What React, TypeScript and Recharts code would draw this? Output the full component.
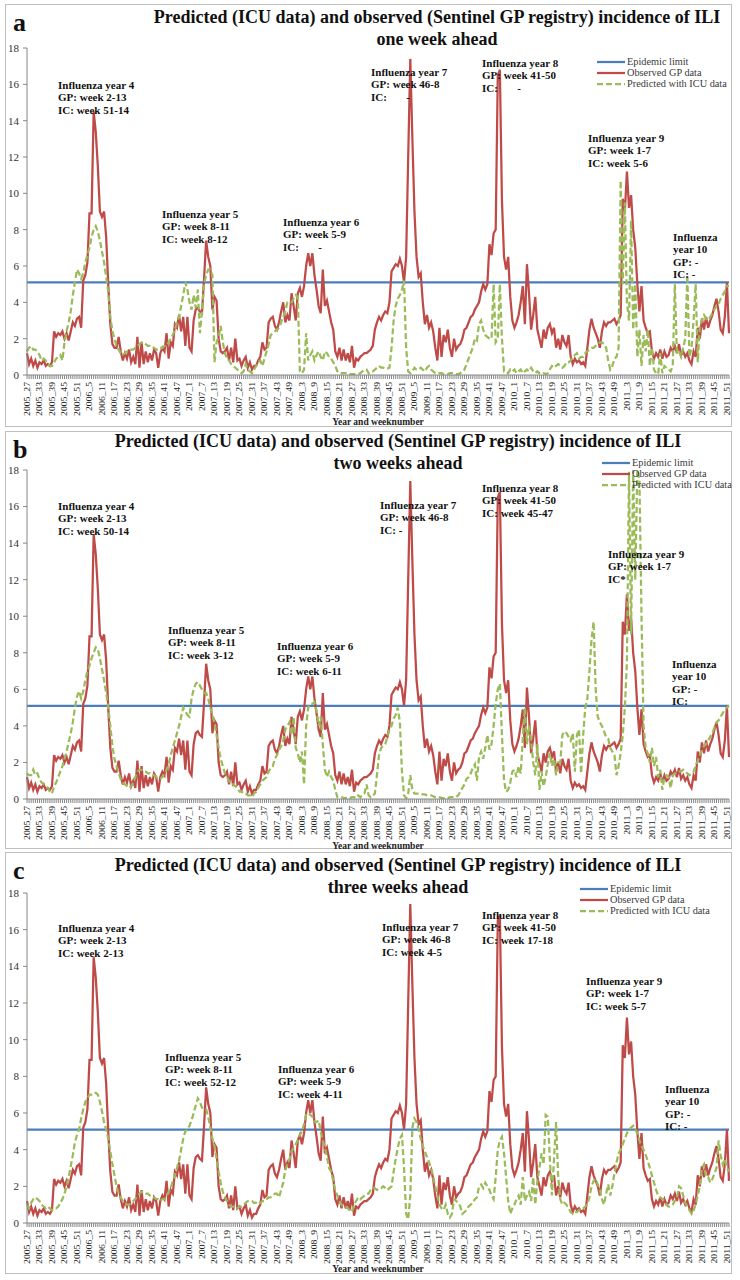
import React from 'react';
import { LineChart, Line, XAxis, YAxis } from 'recharts';

const FONT = "'Liberation Serif', 'Times New Roman', Times, serif";
const RED = '#BE4B48';
const GREEN = '#9BBB59';
const BLUE = '#4A7EBB';
const AXIS = '#868686';

// Categories: week labels, 2005 week 27 .. 2011 week 52 (52 weeks per year)
const FIRST_YEAR = 2005;
const FIRST_WEEK = 27;
const WEEK_COUNT = 338;
const weekLabels: string[] = [];
{
  let y = FIRST_YEAR;
  let w = FIRST_WEEK;
  for (let k = 0; k < WEEK_COUNT; k++) {
    weekLabels.push(`${y}_${w}`);
    w += 1;
    if (w > 52) { w = 1; y += 1; }
  }
}
const TICK_STEP = 6;
const yTicks = [0, 2, 4, 6, 8, 10, 12, 14, 16, 18];
const EPIDEMIC_LIMIT = 5.1;

const observedGP = [
  1.2,0.6,0.9,0.5,0.8,0.4,0.7,0.6,0.8,0.5,
  0.6,0.5,0.7,2.4,2.1,2.3,2.2,2.4,2.0,2.3,
  1.9,2.4,2.9,2.7,3.1,3.2,2.6,5.2,5.5,6.2,
  8.9,8.9,14.5,13.4,11.5,9.0,8.7,9.0,7.6,5.0,
  2.8,1.7,1.5,1.5,2.1,1.3,0.8,1.2,0.9,1.4,
  0.7,1.0,0.6,2.1,0.4,1.8,0.6,1.3,0.7,1.2,
  0.8,1.4,1.2,0.4,1.2,1.5,1.3,2.3,0.9,1.8,
  1.6,2.8,2.6,3.3,2.4,3.2,1.6,3.2,1.5,1.3,
  3.0,3.6,3.7,3.5,3.4,5.3,7.4,6.5,6.0,3.6,
  4.3,4.1,2.0,1.3,1.2,1.3,1.5,0.8,1.5,0.7,
  2.0,0.8,0.9,0.5,0.8,1.0,0.4,0.7,0.3,0.5,
  0.5,0.8,1.0,1.8,1.4,1.5,2.9,3.1,3.2,2.7,
  2.5,2.9,3.5,4.0,2.9,3.3,3.0,4.5,3.8,3.0,
  4.5,4.8,4.3,4.9,6.0,6.7,6.0,6.7,5.5,4.7,
  3.8,3.4,5.8,3.8,4.1,3.5,2.9,2.5,1.3,1.0,
  1.5,0.8,1.4,0.8,1.2,0.7,1.6,0.4,0.9,0.8,
  1.0,1.1,1.2,1.2,1.3,1.4,1.6,2.5,2.9,3.2,
  3.0,3.3,3.5,3.4,4.0,5.7,5.9,6.1,6.0,6.4,
  6.0,5.1,6.5,12.0,17.4,13.0,9.0,6.5,5.4,5.6,
  4.0,2.8,3.3,2.6,2.9,2.4,1.5,0.8,2.6,1.0,
  2.2,1.8,2.5,1.5,1.0,2.0,1.4,1.6,1.7,2.0,
  2.5,2.6,2.9,3.2,3.3,3.6,3.8,4.0,4.6,5.0,
  4.7,5.0,7.2,6.6,7.8,8.0,16.5,16.8,9.6,6.5,
  5.8,6.5,4.3,3.0,2.6,2.9,3.3,4.0,4.9,2.8,
  6.1,4.5,2.5,3.3,4.3,2.5,2.0,1.5,2.5,2.0,
  2.6,2.8,2.3,2.6,1.5,2.0,1.4,2.2,1.8,1.6,
  2.2,1.0,0.6,0.9,0.7,0.8,0.6,0.7,0.5,1.5,
  2.5,3.1,2.6,2.3,2.0,1.5,2.4,2.9,2.7,2.9,
  2.9,3.0,3.1,2.8,3.0,3.3,9.7,9.0,11.2,9.2,
  9.9,8.0,7.0,5.0,3.5,4.9,3.0,2.6,2.3,2.4,
  1.3,0.9,1.2,1.0,1.4,0.9,1.3,1.0,1.1,1.5,
  1.3,1.6,1.2,1.7,1.1,1.3,1.0,1.2,0.8,0.6,
  1.3,1.0,2.6,2.0,3.1,2.5,3.2,2.6,3.0,3.3,
  3.8,4.2,3.5,2.5,2.3,3.2,5.1,2.3,
];

const predictedOneWeek = [
  1.3,1.5,1.6,1.4,1.4,1.3,1.1,0.8,0.9,0.8,
  0.6,0.5,0.5,0.7,0.9,1.0,1.1,0.8,1.8,2.4,
  2.9,3.5,4.4,5.1,5.8,5.6,5.3,5.6,6.2,6.6,
  7.0,7.6,8.0,8.2,7.9,7.4,6.8,6.2,5.4,4.6,
  3.2,2.4,2.0,1.6,1.4,1.2,1.1,1.2,1.3,1.3,
  1.4,1.4,1.5,1.6,1.7,1.8,1.8,1.7,1.6,1.6,
  1.5,1.5,1.4,1.4,1.5,1.5,1.6,1.6,1.8,2.0,
  2.2,2.5,2.9,3.2,3.8,4.4,5.1,4.7,4.0,3.6,
  4.4,3.7,4.7,2.3,3.5,5.0,5.5,5.8,5.8,5.5,
  0.7,1.8,2.1,2.7,1.8,1.2,0.9,0.8,0.6,0.5,
  0.4,0.3,0.2,0.1,0.2,0.6,0.3,0.2,0.1,0.3,
  0.5,0.7,0.8,0.5,0.9,1.3,1.7,2.2,2.3,2.4,
  2.5,2.6,2.9,3.2,3.5,4.0,4.0,4.0,4.2,4.4,
  4.3,0.2,0.1,0.3,2.3,0.8,1.1,1.3,0.8,1.1,
  1.3,1.0,0.8,1.3,1.2,1.0,0.9,0.7,0.5,0.2,
  0.1,0.1,0.1,0.1,0.05,0.05,0.05,0.05,0.05,0.05,
  0.1,0.2,0.3,0.3,0.1,0.2,0.2,0.3,0.4,0.5,
  0.4,0.4,0.35,0.35,0.4,1.5,3.0,3.8,4.2,4.4,
  4.7,5.2,1.5,0.2,0.1,0.2,0.4,0.3,0.3,0.4,
  0.3,0.2,0.4,0.5,0.3,0.2,0.1,0.1,0.1,0.1,
  0.05,0.05,0.05,0.1,0.1,0.1,0.05,0.05,0.1,0.2,
  0.3,0.6,0.9,1.2,1.5,2.0,1.9,2.8,3.0,2.5,
  2.2,2.1,2.0,2.0,5.0,1.8,2.0,5.0,2.0,0.2,
  0.2,0.1,0.3,0.2,0.3,0.1,0.2,0.3,0.1,0.2,
  0.3,0.2,0.4,0.2,0.1,0.2,0.1,0.05,0.1,0.05,
  0.1,0.3,0.5,0.4,0.5,0.6,0.5,0.4,0.5,0.7,
  0.7,0.8,1.0,1.1,1.2,0.9,1.0,1.0,1.2,1.3,
  1.4,1.5,1.5,1.6,1.7,1.8,1.8,1.7,1.5,0.8,
  0.3,0.5,0.9,1.0,1.5,10.7,5.0,9.5,4.0,3.0,
  8.5,2.5,5.0,1.0,2.5,0.5,2.2,1.3,2.5,0.5,
  1.5,0.3,0.1,0.05,1.2,0.1,0.5,0.4,0.3,0.2,
  0.5,5.0,1.2,1.3,1.0,1.5,2.0,5.5,1.0,1.5,
  3.0,5.0,0.7,2.7,3.0,3.3,3.1,3.0,3.2,3.4,
  3.6,3.8,3.9,4.2,4.4,4.6,4.9,4.9,
];

const predictedTwoWeeks = [
  1.4,1.3,1.3,1.6,1.3,1.4,1.1,0.9,0.8,0.7,
  0.6,0.4,0.3,0.7,0.9,1.2,1.5,1.8,2.2,2.6,
  3.1,3.6,4.2,5.0,5.6,5.9,5.5,5.9,6.5,7.0,
  7.3,7.7,8.0,8.3,8.2,7.7,7.1,6.5,5.8,5.0,
  4.0,2.9,2.2,1.8,1.4,1.1,0.9,0.8,0.7,0.6,
  0.7,0.9,1.2,1.5,1.6,1.6,1.5,1.5,1.4,1.4,
  1.3,1.3,1.2,1.1,1.1,1.2,1.4,1.6,1.9,2.4,
  2.8,3.2,3.6,4.0,4.5,5.0,4.8,4.6,4.5,5.5,
  6.0,6.3,6.4,6.2,6.0,5.8,5.8,5.5,5.0,4.6,
  4.2,3.5,2.8,2.2,1.8,1.4,1.2,1.0,0.8,0.8,
  0.7,0.6,0.4,0.4,0.3,0.3,0.2,0.2,0.1,0.3,
  0.4,0.6,0.8,1.0,1.1,1.2,1.5,1.7,1.8,2.2,
  2.4,2.7,2.9,3.2,3.8,4.0,4.2,3.5,4.5,2.8,
  2.5,2.0,2.6,0.8,4.0,5.0,5.2,5.2,5.3,4.8,
  4.0,4.5,3.0,1.6,1.2,1.5,1.2,1.0,0.5,0.1,
  0.1,0.1,0.05,0.05,0.1,0.05,0.1,0.1,0.05,0.2,
  0.1,0.2,0.3,0.8,0.2,0.1,0.2,0.3,1.3,2.4,
  2.8,2.9,3.0,3.4,3.8,4.0,4.4,4.6,5.0,4.2,
  1.5,0.2,0.05,0.3,1.3,0.5,0.3,0.3,0.3,0.3,
  0.25,0.25,0.2,0.2,0.2,0.15,0.1,0.1,0.1,0.05,
  0.05,0.05,0.05,0.1,0.1,0.1,0.1,0.2,0.4,0.6,
  0.8,1.1,1.2,1.4,1.7,1.9,1.0,2.3,2.6,2.2,
  2.8,3.5,2.7,3.0,4.0,5.2,6.0,6.3,3.5,1.0,
  0.4,0.5,0.9,1.5,1.6,1.2,1.8,1.4,3.3,5.0,
  3.0,4.0,3.2,2.0,1.3,3.0,0.5,1.5,0.7,1.2,
  1.9,2.5,1.8,2.2,1.3,2.0,2.0,3.5,3.7,3.6,
  3.4,3.2,3.6,1.5,3.5,3.8,1.4,3.5,5.0,5.5,
  7.0,8.7,9.7,6.0,4.5,4.2,4.0,3.7,3.4,3.3,
  2.8,2.6,2.4,1.3,1.8,2.5,3.5,5.0,7.5,17.9,
  9.0,18.0,12.0,18.0,17.5,10.0,4.0,2.8,2.5,2.0,
  2.8,1.8,2.3,1.2,1.6,0.5,1.2,1.3,1.2,0.6,
  1.3,1.4,1.4,1.5,1.5,1.6,1.5,1.4,1.3,1.4,
  1.5,1.8,2.1,2.4,2.7,2.9,3.0,3.2,3.4,3.6,
  3.9,4.2,4.3,4.5,4.7,4.9,5.0,5.1,
];

const predictedThreeWeeks = [
  1.0,0.8,1.1,1.3,1.4,1.3,1.2,1.0,0.9,0.8,
  0.9,0.8,0.7,0.8,0.8,0.9,1.1,1.3,1.6,2.0,
  2.5,3.1,3.7,4.4,4.8,5.1,5.7,6.2,6.6,6.8,
  7.0,7.0,7.1,7.1,7.0,6.6,6.1,5.5,5.1,4.6,
  3.9,3.2,2.6,2.0,1.6,1.4,1.2,1.1,1.0,1.0,
  1.1,1.2,1.3,1.5,1.6,1.7,1.7,1.6,1.6,1.5,
  1.4,1.4,1.3,1.3,1.2,1.3,1.3,1.5,1.7,1.9,
  2.3,2.6,3.0,3.4,4.0,4.6,5.0,5.1,5.3,5.6,
  6.0,6.4,6.8,6.6,6.3,6.2,6.2,5.8,5.2,4.6,
  4.2,3.5,2.8,2.2,1.7,1.4,1.2,1.0,0.9,0.9,
  0.8,0.8,0.9,0.9,1.0,1.1,1.2,1.2,1.2,1.1,
  1.1,1.0,1.1,1.2,1.2,1.3,1.4,1.4,1.5,1.6,
  1.6,1.4,1.8,2.2,2.9,3.2,3.5,3.9,4.1,4.3,
  4.5,4.8,5.0,5.4,5.9,6.0,5.9,5.8,5.5,5.5,
  5.6,5.0,4.5,4.1,3.6,3.0,2.8,2.3,1.8,1.5,
  1.2,1.0,0.9,0.9,0.8,0.7,0.6,1.0,1.2,1.4,
  1.3,1.4,1.5,1.6,1.6,1.8,1.9,1.9,1.8,1.9,
  1.9,2.0,1.9,1.8,1.9,2.0,2.8,3.5,4.1,4.6,
  4.8,3.0,0.5,0.2,1.5,5.2,5.7,5.5,5.1,4.6,
  4.2,3.9,3.6,3.3,3.0,2.5,2.0,1.5,1.0,0.8,
  0.7,1.0,0.5,0.3,0.5,1.3,1.2,1.1,0.9,0.5,
  0.6,0.7,0.9,1.0,1.1,1.3,1.4,2.0,2.1,1.9,
  2.2,2.0,1.8,1.5,1.3,2.5,4.0,4.5,4.7,3.8,
  2.5,1.2,0.5,0.8,1.0,1.3,1.5,1.0,2.5,1.2,
  1.5,1.7,1.2,2.5,1.0,2.3,3.0,3.8,3.2,5.9,
  5.8,3.5,1.5,3.5,5.5,2.5,1.3,1.0,1.1,1.0,
  0.8,0.6,0.5,0.6,0.6,0.7,0.8,0.8,0.9,1.0,
  1.4,2.0,2.3,2.4,2.1,1.8,1.3,1.0,1.6,2.1,
  1.5,2.0,2.7,3.3,3.8,4.0,4.3,4.6,4.9,5.1,
  5.2,5.3,5.1,4.9,4.5,4.2,4.0,3.7,3.4,3.0,
  2.6,2.2,1.8,1.5,1.4,1.3,1.2,1.0,0.9,0.9,
  1.0,1.2,1.4,2.0,1.9,1.5,1.1,0.9,0.7,0.5,
  0.7,1.0,1.5,2.0,3.0,3.2,2.5,2.5,2.2,2.4,
  2.7,3.0,4.5,3.7,3.2,3.5,3.0,2.8,
];

type Ann = { left: number; cy: number; lines: string[] };

type PanelCfg = {
  letter: string;
  top: number;
  height: number;
  borderTop: number;
  borderBottom: number;
  plotTop: number;
  xAxisH: number;
  subtitle: string;
  titleCx: number;
  titleCy: number;
  predicted: number[];
  legendLeft: number;
  legendCy: number;
  xTitleCy: number;
  anns: Ann[];
};

const panels: PanelCfg[] = [
  {
    letter: 'a', top: 4, height: 419, borderTop: 4, borderBottom: 427, plotTop: 44, xAxisH: 48,
    subtitle: 'one week ahead', titleCx: 437, titleCy: 17,
    predicted: predictedOneWeek,
    legendLeft: 597, legendCy: 62, xTitleCy: 421,
    anns: [
      { left: 58, cy: 85, lines: ['Influenza year 4', 'GP: week 2-13', 'IC: week 51-14'] },
      { left: 162, cy: 214, lines: ['Influenza year 5', 'GP: week 8-11', 'IC: week 8-12'] },
      { left: 283, cy: 222, lines: ['Influenza year 6', 'GP: week 5-9', 'IC:       -'] },
      { left: 371, cy: 72, lines: ['Influenza year 7', 'GP: week 46-8', 'IC:       -'] },
      { left: 482, cy: 63, lines: ['Influenza year 8', 'GP: week 41-50', 'IC:       -'] },
      { left: 588, cy: 138, lines: ['Influenza year 9', 'GP: week 1-7', 'IC: week 5-6'] },
      { left: 673, cy: 237, lines: ['Influenza', 'year 10', 'GP: -', 'IC: -'] },
    ],
  },
  {
    letter: 'b', top: 429, height: 414, borderTop: 431, borderBottom: 849, plotTop: 41, xAxisH: 44,
    subtitle: 'two weeks ahead', titleCx: 398, titleCy: 441,
    predicted: predictedTwoWeeks,
    legendLeft: 602, legendCy: 463, xTitleCy: 845,
    anns: [
      { left: 58, cy: 506, lines: ['Influenza year 4', 'GP: week 2-13', 'IC: week 50-14'] },
      { left: 168, cy: 630, lines: ['Influenza year 5', 'GP: week 8-11', 'IC: week 3-12'] },
      { left: 277, cy: 646, lines: ['Influenza year 6', 'GP: week 5-9', 'IC: week 6-11'] },
      { left: 380, cy: 505, lines: ['Influenza year 7', 'GP: week 46-8', 'IC: -'] },
      { left: 482, cy: 488, lines: ['Influenza year 8', 'GP: week 41-50', 'IC: week 45-47'] },
      { left: 608, cy: 554, lines: ['Influenza year 9', 'GP: week 1-7', 'IC*'] },
      { left: 672, cy: 664, lines: ['Influenza', 'year 10', 'GP: -', 'IC:'] },
    ],
  },
  {
    letter: 'c', top: 852, height: 421, borderTop: 852, borderBottom: 1274, plotTop: 41, xAxisH: 50,
    subtitle: 'three weeks ahead', titleCx: 398, titleCy: 865,
    predicted: predictedThreeWeeks,
    legendLeft: 580, legendCy: 889, xTitleCy: 1268,
    anns: [
      { left: 58, cy: 928, lines: ['Influenza year 4', 'GP: week 2-13', 'IC: week 2-13'] },
      { left: 165, cy: 1057, lines: ['Influenza year 5', 'GP: week 8-11', 'IC: week 52-12'] },
      { left: 278, cy: 1069, lines: ['Influenza year 6', 'GP: week 5-9', 'IC: week 4-11'] },
      { left: 382, cy: 927, lines: ['Influenza year 7', 'GP: week 46-8', 'IC: week 4-5'] },
      { left: 482, cy: 915, lines: ['Influenza year 8', 'GP: week 41-50', 'IC: week 17-18'] },
      { left: 586, cy: 981, lines: ['Influenza year 9', 'GP: week 1-7', 'IC: week 5-7'] },
      { left: 665, cy: 1089, lines: ['Influenza', 'year 10', 'GP: -', 'IC: -'] },
    ],
  },
];

const PANEL_LEFT = 5;
const PANEL_W = 727;

function WeekTick(props: any) {
  const { x, y, payload, index } = props;
  const idx = typeof payload?.index === 'number' ? payload.index : index;
  if (idx % TICK_STEP !== 0) return null;
  return (
    <g transform={`translate(${x},${y})`}>
      <text transform="rotate(-90) scale(1.14,1)" x={0} y={0} dy="0.34em" textAnchor="end"
        fontSize={8.5} fontFamily={FONT} fill="#222">{payload.value}</text>
    </g>
  );
}

const legendItems = [
  { label: 'Epidemic limit', color: BLUE, dash: undefined as string | undefined },
  { label: 'Observed GP data', color: RED, dash: undefined as string | undefined },
  { label: 'Predicted with ICU data', color: GREEN, dash: '6 3' },
];

function Panel({ cfg }: { cfg: PanelCfg }) {
  const rows = weekLabels.map((week, i) => ({
    week,
    limit: EPIDEMIC_LIMIT,
    observed: observedGP[i],
    predicted: cfg.predicted[i],
  }));
  const lh = 12.5;
  const legendGap = 11;
  return (
    <>
      <div style={{ position: 'absolute', left: PANEL_LEFT, top: cfg.borderTop, width: PANEL_W,
        height: cfg.borderBottom - cfg.borderTop, border: '1px solid #BFBFBF', boxSizing: 'border-box' }} />
      <div style={{ position: 'absolute', left: PANEL_LEFT, top: cfg.top }}>
        <LineChart width={PANEL_W} height={cfg.height} data={rows}
          margin={{ top: cfg.plotTop, right: 3, left: 4, bottom: 0 }}>
          <XAxis dataKey="week" interval={0} height={cfg.xAxisH} tickSize={4} tickMargin={3}
            axisLine={{ stroke: AXIS }} tickLine={{ stroke: AXIS }}
            tick={(p: any) => <WeekTick {...p} />} />
          <YAxis domain={[0, 18]} ticks={yTicks} interval={0} width={18} tickSize={4} tickMargin={4}
            axisLine={{ stroke: AXIS }} tickLine={{ stroke: AXIS }}
            tick={{ fontSize: 11, fill: '#333', fontFamily: FONT }} />
          <Line type="linear" dataKey="limit" stroke={BLUE} strokeWidth={2.25} dot={false}
            activeDot={false} isAnimationActive={false} />
          <Line type="linear" dataKey="observed" stroke={RED} strokeWidth={2.25} dot={false}
            activeDot={false} isAnimationActive={false} />
          <Line type="linear" dataKey="predicted" stroke={GREEN} strokeWidth={2.25} strokeDasharray="6 3"
            dot={false} activeDot={false} isAnimationActive={false} />
        </LineChart>
      </div>
      <div style={{ position: 'absolute', left: 13, top: cfg.borderTop + 6, fontFamily: FONT, fontWeight: 'bold',
        fontSize: 26, lineHeight: '26px', color: '#111' }}>{cfg.letter}</div>
      <div style={{ position: 'absolute', left: cfg.titleCx - 360, width: 720, top: cfg.titleCy - 11,
        textAlign: 'center', fontFamily: FONT, fontWeight: 'bold', fontSize: 18, lineHeight: '22px', color: '#111' }}>
        <div>Predicted (ICU data) and observed (Sentinel GP registry) incidence of ILI</div>
        <div>{cfg.subtitle}</div>
      </div>
      {cfg.anns.map((a, k) => (
        <div key={k} style={{ position: 'absolute', left: a.left, top: a.cy - lh / 2, fontFamily: FONT,
          fontWeight: 'bold', fontSize: 11, lineHeight: `${lh}px`, whiteSpace: 'pre', color: '#111' }}>
          {a.lines.map((t, j) => <div key={j}>{t}</div>)}
        </div>
      ))}
      {legendItems.map((it, k) => (
        <div key={k} style={{ position: 'absolute', left: cfg.legendLeft, top: cfg.legendCy + k * legendGap - 6,
          height: 12, display: 'flex', alignItems: 'center', whiteSpace: 'nowrap' }}>
          <svg width={28} height={12} style={{ display: 'block' }}>
            <line x1={0} x2={28} y1={6} y2={6} stroke={it.color} strokeWidth={2.25} strokeDasharray={it.dash} />
          </svg>
          <span style={{ fontFamily: FONT, fontSize: 10.3, color: '#3a3a3a', marginLeft: 2, lineHeight: '12px' }}>
            {it.label}
          </span>
        </div>
      ))}
      <div style={{ position: 'absolute', left: 378 - 100, width: 200, top: cfg.xTitleCy - 5, textAlign: 'center',
        fontFamily: FONT, fontWeight: 'bold', fontSize: 9.5, lineHeight: '12px', color: '#222' }}>
        Year and weeknumber
      </div>
    </>
  );
}

export default function App() {
  return (
    <div style={{ position: 'absolute', left: 0, top: 0, width: 740, height: 1280, background: '#fff' }}>
      {panels.map((p) => <Panel key={p.letter} cfg={p} />)}
    </div>
  );
}
